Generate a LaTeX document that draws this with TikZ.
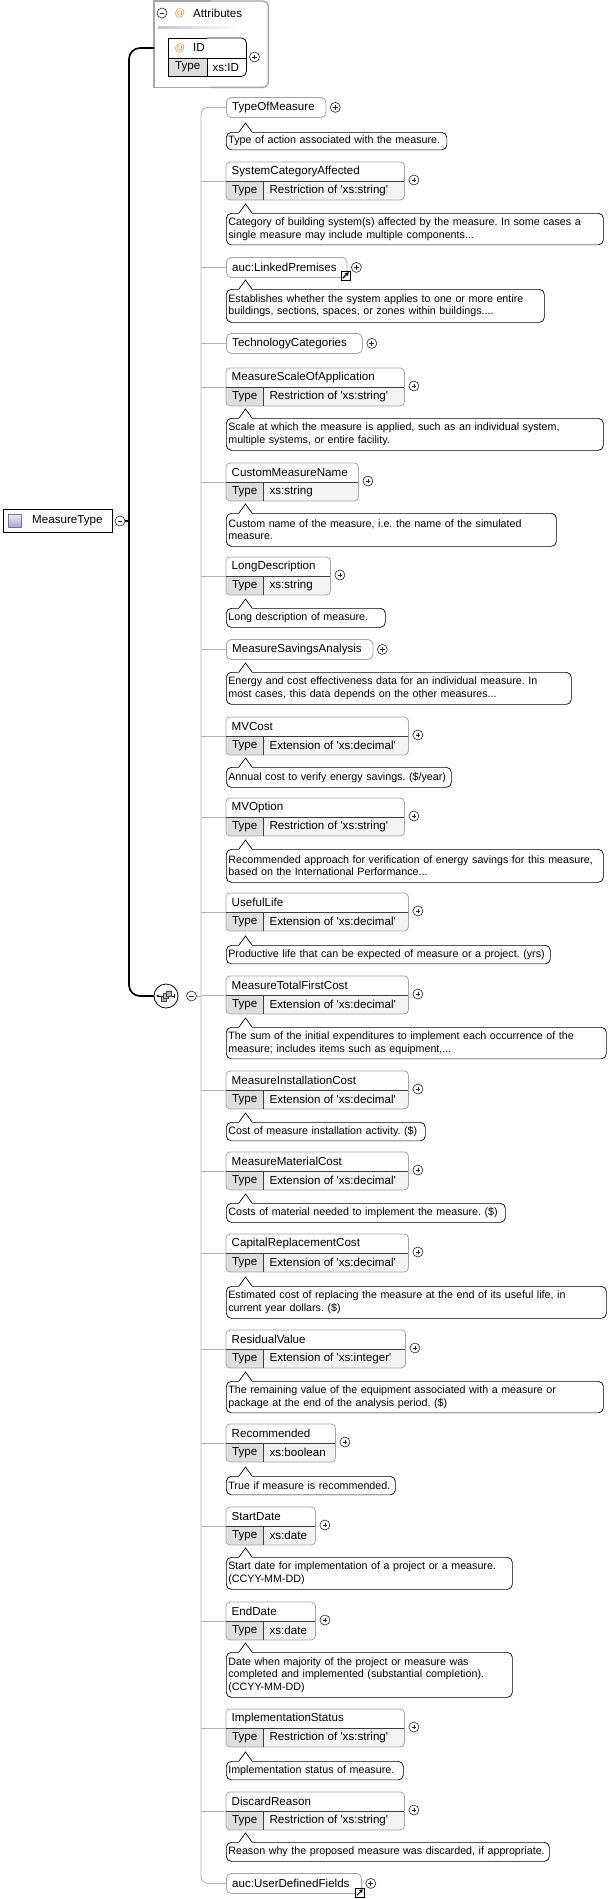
\documentclass[tikz,border=0pt]{standalone}
\usepackage{fontspec}
\setmainfont{Liberation Sans}
\usetikzlibrary{arrows.meta}
\definecolor{boxgray}{RGB}{165,165,165}
\definecolor{sepgray}{RGB}{60,60,60}
\definecolor{typefill}{RGB}{222,222,222}
\definecolor{valfill}{RGB}{243,243,243}
\definecolor{spinegray}{RGB}{178,178,178}
\definecolor{attrorange}{RGB}{232,150,60}
\definecolor{lavlight}{RGB}{240,235,250}
\definecolor{lavdark}{RGB}{180,162,214}
\frenchspacing
\hyphenpenalty=10000
\exhyphenpenalty=10000

\newcommand{\typedel}[5]{%
  \node[elframe, minimum width=#3, minimum height=37.5] (#1) at (226,#2) {};
  \begin{scope}
    \clip[rounded corners=4pt] (#1.north west) rectangle (#1.south east);
    \fill[valfill] ([yshift=-19.5pt]#1.north west) rectangle (#1.south east);
    \node[typecell] (#1t) at ([yshift=-19.5pt]#1.north west) {Type};
  \end{scope}
  \draw[elline, rounded corners=4pt] (#1.north west) rectangle (#1.south east);
  \draw[sepline] (#1t.north west) -- (#1t.north west -| #1.east) (#1t.north east) -- (#1t.south east);
  \node[eltext] (#1n) at ([xshift=5.5pt,yshift=-9.75pt]#1.north west) {#4};
  \node[eltext] (#1v) at ([xshift=6pt]#1t.east) {#5};
  \node[expander] (#1p) at ([xshift=9.5pt,yshift=-18pt]#1.north east) {};
}
\newcommand{\plainel}[4]{%
  \node[elframe, elline, fill=white, rounded corners=5pt, minimum width=#3, minimum height=20] (#1) at (226,#2) {};
  \node[eltext] (#1n) at ([xshift=6pt]#1.west) {#4};
  \node[expander] (#1p) at ([xshift=9pt]#1.east) {};
}
\newcommand{\docnote}[5]{%
  \node[docbox, text width=#3pt, minimum height=#4pt] (#1) at (226,#2) {#5};
  \fill[white] ([xshift=13pt,yshift=-0.8pt]#1.north west) -- ++(6.5,-9.8) -- ++(6.5,9.8) -- cycle;
  \draw[docline] ([xshift=13pt]#1.north west) -- ++(6.5,-9) -- ++(6.5,9);
}

\begin{document}
\begin{tikzpicture}[x=1pt, y=-1pt,
    elframe/.style={anchor=north west, inner sep=0pt},
    elline/.style={draw=boxgray, line width=0.8pt},
    sepline/.style={draw=sepgray, line width=0.8pt},
    idline/.style={draw=black, line width=0.8pt},
    attrline/.style={draw=boxgray, line width=1.4pt},
    typecell/.style={anchor=north west, fill=typefill, minimum width=37, minimum height=18, inner sep=0pt, font=\fontsize{11.6}{13}\selectfont},
    eltext/.style={anchor=west, inner sep=0pt, font=\fontsize{11.6}{13}\selectfont},
    attext/.style={inner sep=0pt, text=attrorange, font=\fontsize{10.5}{12}\selectfont},
    docbox/.style={anchor=north west, draw, fill=white, line width=0.7pt, rounded corners=5pt, inner xsep=2pt, inner ysep=0pt, align=left, font=\fontsize{10.7}{12.6}\selectfont},
    docline/.style={line width=0.7pt, line join=miter},
    spineline/.style={draw=spinegray, line width=0.9pt},
    trunkline/.style={draw=black, line width=1.7pt},
    expander/.style={circle, draw=black!85, fill=white, line width=0.6pt, minimum size=10pt, inner sep=0pt,
        path picture={\draw[line width=0.7pt] ([xshift=-2.4pt]path picture bounding box.center) -- ([xshift=2.4pt]path picture bounding box.center) ([yshift=-2.4pt]path picture bounding box.center) -- ([yshift=2.4pt]path picture bounding box.center);}},
    collapser/.style={circle, draw=black!85, fill=white, line width=0.6pt, minimum size=10pt, inner sep=0pt,
        path picture={\draw[line width=0.7pt] ([xshift=-2.4pt]path picture bounding box.center) -- ([xshift=2.4pt]path picture bounding box.center);}},
    linkicon/.style={draw, fill=white, line width=0.6pt, minimum size=9pt, inner sep=0pt,
        path picture={\draw[line width=1.1pt, -{Triangle[length=3.4pt,width=3.8pt]}] ([shift={(1.8pt,1.8pt)}]path picture bounding box.south west) -- ([shift={(-1.2pt,-1.2pt)}]path picture bounding box.north east);}}
]
\useasboundingbox (0,0) rectangle (614,1899);

\node[elframe, minimum width=114, minimum height=86] (attrs) at (154,1) {};
\draw[attrline] (attrs.north) -- (attrs.north west) -- (attrs.south west) -- (attrs.south);
\draw[attrline, rounded corners=6pt] (attrs.north) -- (attrs.north east) -- (attrs.south east) -- (attrs.south);
\node[collapser] (attrm) at (162,13) {};
\node[attext] (attrat) at (180,13) {@};
\node[eltext] (attrname) at (193,13) {Attributes};
\shade[left color=gray!45, right color=white] (158,26) rectangle (242,28.5);

\node[elframe, minimum width=78, minimum height=38] (idb) at (168,38) {};
\node[typecell, minimum width=39] (idt) at (168,58) {Type};
\draw[idline] (idb.north) -- (idb.north west) -- (idb.south west) -- (idb.south);
\draw[idline, rounded corners=5pt] (idb.north) -- (idb.north east) -- (idb.south east) -- (idb.south);
\draw[idline] (idt.north west) -- (idt.north west -| idb.east) (idt.north east) -- (idt.south east);
\node[attext] (idat) at (180,48) {@};
\node[eltext] (idname) at (193,48) {ID};
\node[eltext] (idv) at ([xshift=5pt]idt.east) {xs:ID};
\node[expander] (idp) at (254.5,57) {};

\node[elframe, draw, line width=0.9pt, minimum width=109, minimum height=23] (mt) at (3,509) {};
\node[draw=lavdark!70!black, line width=0.5pt, top color=lavlight, bottom color=lavdark, minimum width=13, minimum height=12.5, inner sep=0pt] (mticon) at (15,520.5) {};
\node[eltext] (mtname) at (32,520.5) {MeasureType};
\node[collapser] (mtm) at (120,521) {};

\node[circle, draw, fill=white, line width=0.8pt, minimum size=24] (seq) at (166,996) {};
\draw[line width=0.6pt] ([xshift=-8pt]seq.center) -- ([xshift=8pt]seq.center);
\fill ([shift={(-9pt,-1pt)}]seq.center) rectangle ([shift={(-7pt,1pt)}]seq.center);
\draw[line width=0.6pt] ([shift={(8pt,-1.8pt)}]seq.center) -- ([shift={(8pt,1.8pt)}]seq.center);
\filldraw[fill=gray!55, draw=black!75, line width=0.4pt] ([shift={(-5pt,-5pt)}]seq.center) rectangle ([shift={(0pt,0pt)}]seq.center);
\filldraw[fill=gray!55, draw=black!75, line width=0.4pt] ([shift={(-2.5pt,-2.5pt)}]seq.center) rectangle ([shift={(2.5pt,2.5pt)}]seq.center);
\filldraw[fill=gray!55, draw=black!75, line width=0.4pt] ([shift={(0pt,0pt)}]seq.center) rectangle ([shift={(5pt,5pt)}]seq.center);
\node[collapser] (seqm) at (191.5,996) {};

\coordinate (trunkx) at (129,0);
\draw[trunkline] (mtm.east) -- (mtm.east -| trunkx);
\draw[trunkline, rounded corners=11pt] (idname.west -| attrs.west) -- (idname.west -| trunkx) -- (seq.west -| trunkx) -- (seq.west);

\plainel{tom}{97}{99.5}{TypeOfMeasure}
\docnote{tomd}{132}{216.5}{17.5}{Type of action associated with the measure.}
\typedel{sca}{162}{178}{SystemCategoryAffected}{Restriction of \textquotesingle xs:string\textquotesingle}
\docnote{scad}{213}{373}{31.5}{Category of building system(s) affected by the measure. In some cases a\\single measure may include multiple components...}
\plainel{lp}{257}{120.6}{auc:LinkedPremises}
\node[linkicon] (lpl) at (345.5,275.5) {};
\docnote{lpd}{289}{314}{33}{Establishes whether the system applies to one or more entire\\buildings, sections, spaces, or zones within buildings....}
\plainel{tc}{333}{136}{TechnologyCategories}
\typedel{msoa}{368}{178}{MeasureScaleOfApplication}{Restriction of \textquotesingle xs:string\textquotesingle}
\docnote{msoad}{418}{373}{32}{Scale at which the measure is applied, such as an individual system,\\multiple systems, or entire facility.}
\typedel{cmn}{463}{132}{CustomMeasureName}{xs:string}
\docnote{cmnd}{513}{326}{33}{Custom name of the measure, i.e. the name of the simulated\\measure.}
\typedel{ld}{557}{104}{LongDescription}{xs:string}
\docnote{ldd}{608}{155}{19}{Long description of measure.}
\plainel{msa}{639}{146.5}{MeasureSavingsAnalysis}
\docnote{msad}{672}{341}{32}{Energy and cost effectiveness data for an individual measure. In\\most cases, this data depends on the other measures...}
\typedel{mvc}{717}{182}{MVCost}{Extension of \textquotesingle xs:decimal\textquotesingle}
\docnote{mvcd}{767}{221}{20}{Annual cost to verify energy savings. (\$/year)}
\typedel{mvo}{798}{178}{MVOption}{Restriction of \textquotesingle xs:string\textquotesingle}
\docnote{mvod}{849}{373}{33}{Recommended approach for verification of energy savings for this measure,\\based on the International Performance...}
\typedel{ul}{893}{182}{UsefulLife}{Extension of \textquotesingle xs:decimal\textquotesingle}
\docnote{uld}{945}{320}{18.5}{Productive life that can be expected of measure or a project. (yrs)}
\typedel{mtfc}{976}{182}{MeasureTotalFirstCost}{Extension of \textquotesingle xs:decimal\textquotesingle}
\docnote{mtfcd}{1027}{376}{31.5}{The sum of the initial expenditures to implement each occurrence of the\\measure; includes items such as equipment,...}
\typedel{mic}{1071}{182}{MeasureInstallationCost}{Extension of \textquotesingle xs:decimal\textquotesingle}
\docnote{micd}{1122}{195}{18.5}{Cost of measure installation activity. (\$)}
\typedel{mmc}{1152}{182}{MeasureMaterialCost}{Extension of \textquotesingle xs:decimal\textquotesingle}
\docnote{mmcd}{1203}{275}{19}{Costs of material needed to implement the measure. (\$)}
\typedel{crc}{1234}{182}{CapitalReplacementCost}{Extension of \textquotesingle xs:decimal\textquotesingle}
\docnote{crcd}{1286}{376}{32}{Estimated cost of replacing the measure at the end of its useful life, in\\current year dollars. (\$)}
\typedel{rv}{1330}{179}{ResidualValue}{Extension of \textquotesingle xs:integer\textquotesingle}
\docnote{rvd}{1381}{373}{31.5}{The remaining value of the equipment associated with a measure or\\package at the end of the analysis period. (\$)}
\typedel{rec}{1424}{109}{Recommended}{xs:boolean}
\docnote{recd}{1476}{165}{18.5}{True if measure is recommended.}
\typedel{sd}{1507}{89}{StartDate}{xs:date}
\docnote{sdd}{1557}{282}{32}{Start date for implementation of a project or a measure.\\(CCYY-MM-DD)}
\typedel{ed}{1602}{89}{EndDate}{xs:date}
\docnote{edd}{1652}{282}{45}{Date when majority of the project or measure was\\completed and implemented (substantial completion).\\(CCYY-MM-DD)}
\typedel{is}{1709}{178}{ImplementationStatus}{Restriction of \textquotesingle xs:string\textquotesingle}
\docnote{isd}{1761}{173}{18.5}{Implementation status of measure.}
\typedel{dr}{1792}{178}{DiscardReason}{Restriction of \textquotesingle xs:string\textquotesingle}
\docnote{drd}{1842}{319}{19}{Reason why the proposed measure was discarded, if appropriate.}
\plainel{udf}{1873}{135}{auc:UserDefinedFields}
\node[linkicon] (udfl) at (359.5,1892.5) {};

\coordinate (spinex) at (201,0);
\draw[spineline, rounded corners=7pt] (tom.west) -- (tom.west -| spinex) -- (udf.west -| spinex) -- (udf.west);
\draw[spineline] (seqm.east) -- (seqm.east -| spinex);
\draw[spineline] (scat.north west) -- (scat.north west -| spinex);
\draw[spineline] (lp.west) -- (lp.west -| spinex);
\draw[spineline] (tc.west) -- (tc.west -| spinex);
\draw[spineline] (msoat.north west) -- (msoat.north west -| spinex);
\draw[spineline] (cmnt.north west) -- (cmnt.north west -| spinex);
\draw[spineline] (ldt.north west) -- (ldt.north west -| spinex);
\draw[spineline] (msa.west) -- (msa.west -| spinex);
\draw[spineline] (mvct.north west) -- (mvct.north west -| spinex);
\draw[spineline] (mvot.north west) -- (mvot.north west -| spinex);
\draw[spineline] (ult.north west) -- (ult.north west -| spinex);
\draw[spineline] (mtfct.north west) -- (mtfct.north west -| spinex);
\draw[spineline] (mict.north west) -- (mict.north west -| spinex);
\draw[spineline] (mmct.north west) -- (mmct.north west -| spinex);
\draw[spineline] (crct.north west) -- (crct.north west -| spinex);
\draw[spineline] (rvt.north west) -- (rvt.north west -| spinex);
\draw[spineline] (rect.north west) -- (rect.north west -| spinex);
\draw[spineline] (sdt.north west) -- (sdt.north west -| spinex);
\draw[spineline] (edt.north west) -- (edt.north west -| spinex);
\draw[spineline] (ist.north west) -- (ist.north west -| spinex);
\draw[spineline] (drt.north west) -- (drt.north west -| spinex);
\end{tikzpicture}
\end{document}
